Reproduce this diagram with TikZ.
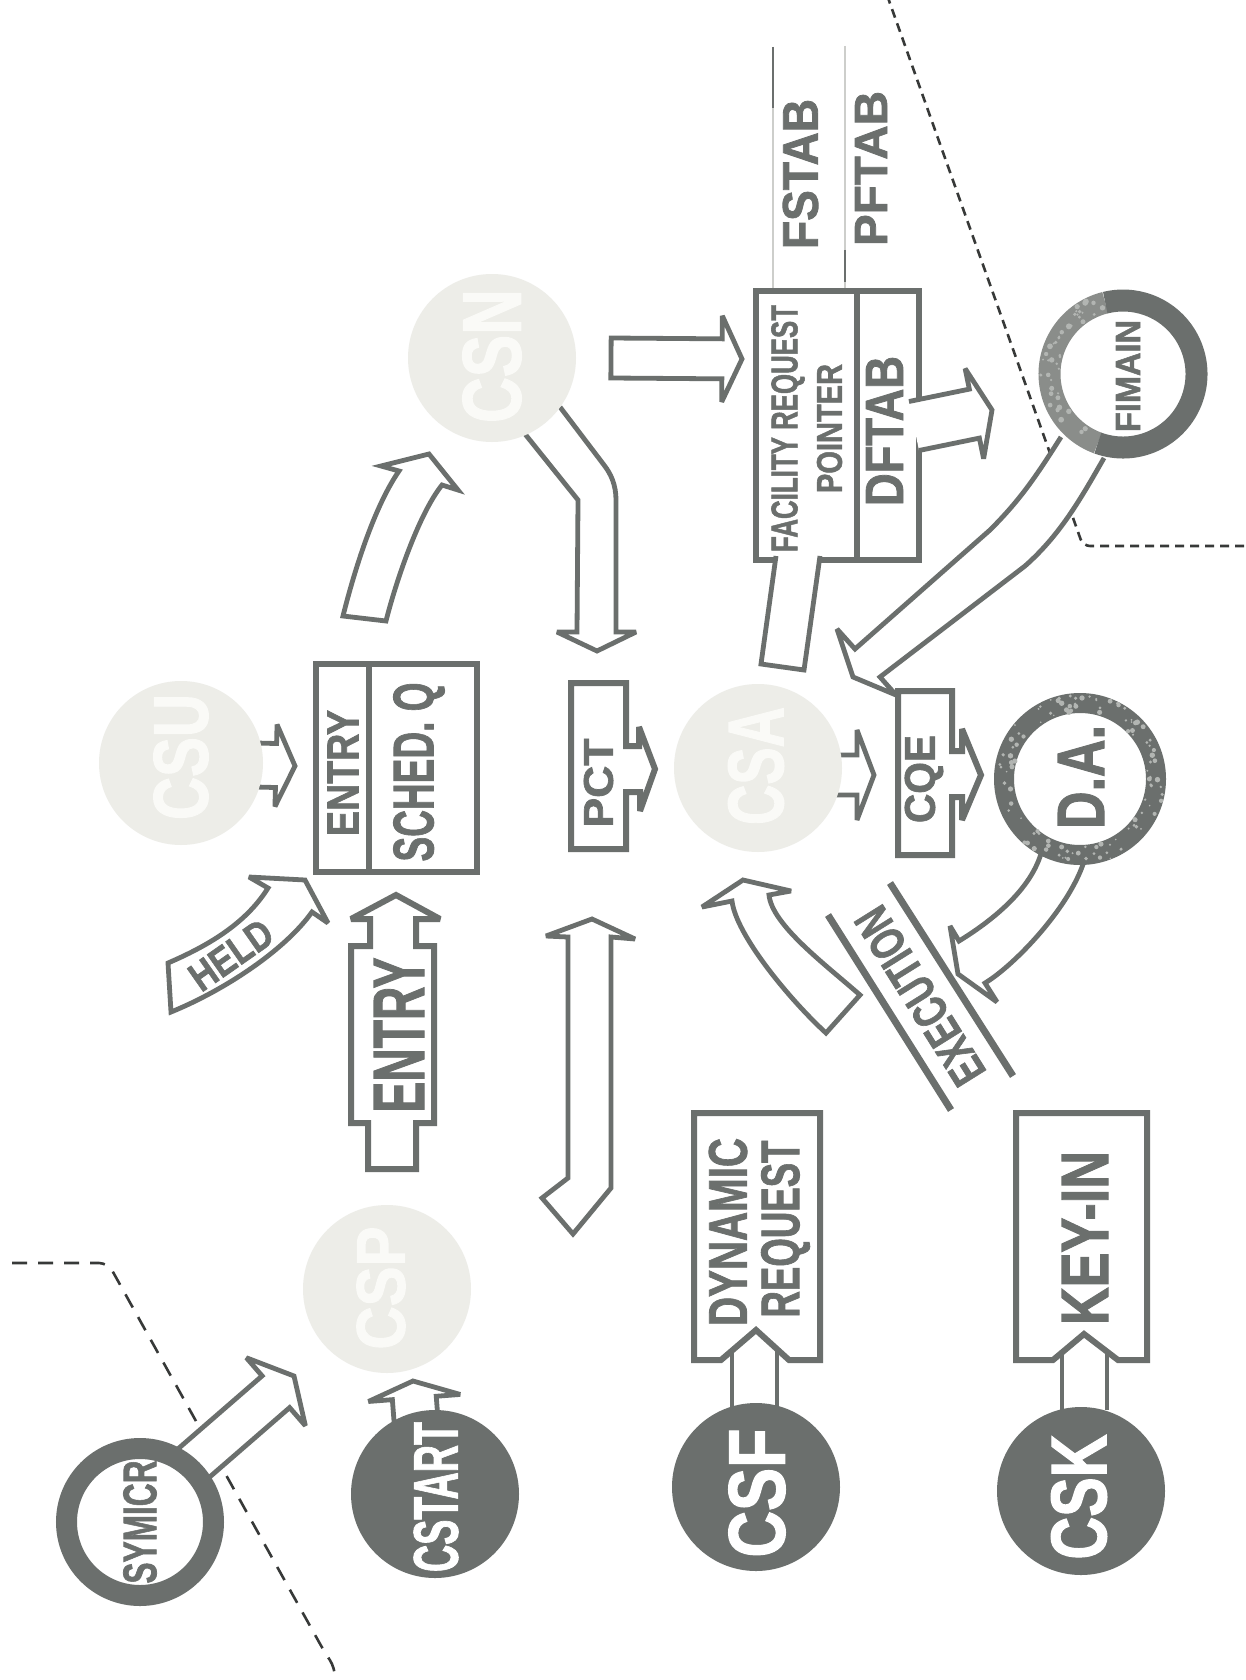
\documentclass[tikz,border=0pt]{standalone}
\usepackage{fontspec}
\setmainfont{Liberation Sans}[BoldFeatures={FakeBold=1.6}]
\usepackage{graphicx}
\usetikzlibrary{calc}
\definecolor{dk}{RGB}{107,111,109}
\definecolor{lt}{RGB}{237,237,232}
\definecolor{lttx}{RGB}{250,250,247}
\definecolor{dsh}{RGB}{55,57,56}
\definecolor{spk}{RGB}{178,181,178}
\definecolor{fmid}{RGB}{138,141,138}
\definecolor{fsl}{RGB}{205,206,203}
\newcommand\fitt[3]{\resizebox{#1pt}{#2pt}{\bfseries #3}}
\newcommand\barrow[6][]{%
  \coordinate (bah) at ($(#3)!#6pt!(#2)$);
  \filldraw[arw,#1] ($(#2)!#4pt!90:(#3)$) -- ($(bah)!#4pt!-90:(#2)$) -- ($(bah)!#5pt!-90:(#2)$) -- (#3) -- ($(bah)!#5pt!90:(#2)$) -- ($(bah)!#4pt!90:(#2)$) -- ($(#2)!#4pt!-90:(#3)$);}
\newcommand\barrowc[6][]{%
  \coordinate (bah) at ($(#3)!#6pt!(#2)$);
  \filldraw[arw,#1] ($(#2)!#4pt!90:(#3)$) -- ($(bah)!#4pt!-90:(#2)$) -- ($(bah)!#5pt!-90:(#2)$) -- (#3) -- ($(bah)!#5pt!90:(#2)$) -- ($(bah)!#4pt!90:(#2)$) -- ($(#2)!#4pt!-90:(#3)$) -- cycle;}
\begin{document}
\begin{tikzpicture}[x=1pt,y=-1pt,
  bx/.style={draw=dk,line width=6pt,fill=white,line join=miter,miter limit=4},
  arw/.style={draw=dk,line width=4.8pt,fill=white,line join=miter,miter limit=4},
  lightc/.style={circle,fill=lt,minimum size=168pt,inner sep=0pt},
  darkc/.style={circle,fill=dk,minimum size=168pt,inner sep=0pt},
  ringc/.style={circle,draw=dk,fill=white,inner sep=0pt},
  tx/.style={inner sep=0pt,text=dk},
  lbl/.style={tx,rotate=90},
  dshline/.style={draw=dsh,line width=2.6pt},
  sepline/.style={draw=dk,line width=7pt},
]
\useasboundingbox (0,0) rectangle (1245,1680);
\fill[white] (0,0) rectangle (1245,1680);

% dashed boundaries
\draw[dshline,dash pattern=on 15pt off 11pt,rounded corners=9pt] (12,1263) -- (108,1263) -- (324,1651) -- (335,1668) -- (335,1690);
\draw[dshline,dash pattern=on 9pt off 6pt,rounded corners=7pt] (887,-5) -- (1083,546) -- (1250,546);

% FSTAB / PFTAB
\draw[fsl,line width=2pt] (773,47) -- (773,291);
\draw[dk,line width=2pt] (773,47) -- (773,108);
\draw[fsl,line width=2pt] (845,46) -- (845,291);
\draw[dk,line width=2pt] (845,250) -- (845,282);
\node[lbl] (fstab) at (800.5,174) {\fitt{150}{35}{FSTAB}};
\node[lbl] (pftab) at (871,168.5) {\fitt{155}{32}{PFTAB}};

% ENTRY / SCHED. Q box
\node[bx,minimum width=53pt,minimum height=208pt] (entq) at (342.5,768) {};
\node[bx,minimum width=108pt,minimum height=208pt] (sched) at (423,768) {};
\node[lbl] (t-entq) at (343,773) {\fitt{126}{31}{ENTRY}};
\node[lbl] (t-sched) at (419,772) {\fitt{179}{40}{SCHED. Q}};

% FACILITY REQUEST POINTER / DFTAB box
\node[bx,minimum width=101pt,minimum height=269pt] (facreq) at (806.5,425.5) {};
\node[bx,minimum width=62pt,minimum height=269pt] (dftab) at (888,425.5) {};
\node[lbl] (t-fac) at (788,428.5) {\fitt{247}{26}{FACILITY REQUEST}};
\node[lbl] (t-ptr) at (829.5,428.5) {\fitt{129}{25}{POINTER}};
\node[lbl] (t-dft) at (884.5,431) {\fitt{150}{37}{DFTAB}};
\filldraw[arw] (776,556) -- (761,664) -- (804,670) -- (820,556);
\coordinate (dfs) at (914,426); \coordinate (dft) at (992,410);
\barrow{dfs}{dft}{25}{46}{18}

% PCT
\filldraw[bx] (571,683) -- (626,683) -- (626,746) -- (639,746) -- (639,727) -- (655,769) -- (640,811) -- (640,792) -- (626,792) -- (626,849) -- (571,849) -- cycle;
\node[lbl] (pct) at (598.5,783) {\fitt{89}{29}{PCT}};

% CQE
\filldraw[bx] (898,691) -- (952,691) -- (952,751) -- (962,751) -- (962,729) -- (981,775) -- (962,820) -- (962,797) -- (952,797) -- (952,855) -- (898,855) -- cycle;
\node[lbl] (cqe) at (924,779) {\fitt{88}{30}{CQE}};

% ENTRY label arrow
\filldraw[bx] (368,1169) -- (368,1123) -- (351,1123) -- (351,946) -- (370,946) -- (370,919) -- (351,919) -- (396,895) -- (440,919) -- (416,919) -- (416,946) -- (434,946) -- (434,1123) -- (416,1123) -- (416,1169) -- cycle;
\node[lbl] (entry) at (399,1035) {\fitt{155}{50}{ENTRY}};

% DYNAMIC REQUEST
\filldraw[bx] (694,1113) -- (820,1113) -- (820,1360) -- (789,1360) -- (756,1330) -- (721,1360) -- (694,1360) -- cycle;
\draw[dk,line width=4.8pt] (732,1351) -- (732,1410) (777,1350) -- (777,1410);
\node[lbl] (t-dyn) at (728,1232) {\fitt{188}{38}{DYNAMIC}};
\node[lbl] (t-req) at (785.5,1229) {\fitt{177}{38}{REQUEST}};

% KEY-IN
\filldraw[bx] (1016,1113) -- (1147,1113) -- (1147,1360) -- (1118,1360) -- (1084,1334) -- (1053,1360) -- (1016,1360) -- cycle;
\draw[dk,line width=4.8pt] (1062,1352) -- (1062,1410) (1107,1351) -- (1107,1410);
\node[lbl] (keyin) at (1085,1238) {\fitt{174}{46}{KEY-IN}};

% EXECUTION band
\draw[sepline] (828,915) -- (951,1110);
\draw[sepline] (890,883) -- (1013,1076);
\node[tx,rotate=122] (exec) at (920,996) {\fitt{200}{34}{EXECUTION}};

% straight block arrows
\coordinate (s1) at (188,1468); \coordinate (t1) at (294,1376);
\barrow{s1}{t1}{21}{45}{24}
\coordinate (s2) at (416,1420); \coordinate (t2) at (413,1381);
\barrow{s2}{t2}{22}{46}{17}
\coordinate (s3) at (256,765); \coordinate (t3) at (295,766);
\barrow{s3}{t3}{22}{41}{19}
\coordinate (s4) at (836,775); \coordinate (t4) at (874,775);
\barrow{s4}{t4}{20}{45}{17}
\coordinate (s5) at (611,358); \coordinate (t5) at (742,359);
\barrowc{s5}{t5}{20}{43}{20}

% curved / bent block arrows
\filldraw[arw] (168,963) -- (171,1012) .. controls (225,990) and (285,950) .. (312,912) -- (328,923) -- (305,880) -- (249,877) -- (268,888) .. controls (245,925) and (205,947) .. (168,963) -- cycle;
\node[tx,rotate=35] (held) at (231,955) {\fitt{92}{28}{HELD}};
\filldraw[arw] (343,616) -- (386,621) .. controls (395,585) and (418,515) .. (442,485) -- (458,490) -- (429,454) -- (381,466) -- (399,471) .. controls (372,510) and (352,580) .. (343,616) -- cycle;
\filldraw[arw] (525,434) -- (578,500) -- (577,632) -- (557,632) -- (597,651) -- (636,632) -- (616,632) -- (616,500) .. controls (616,485) and (611,474) .. (604,465) -- (560,407);
\filldraw[arw] (611,937) -- (635,939) -- (592,919) -- (546,936) -- (568,937) -- (568,1178) -- (542,1198) -- (573,1234) -- (611,1188) -- cycle;
\filldraw[arw] (1061,437) .. controls (1035,478) and (1020,500) .. (990,530) -- (855,649) -- (837,629) -- (853,677) -- (896,695) -- (880,677) -- (1025,566) .. controls (1060,535) and (1080,500) .. (1104,458);
\filldraw[arw] (1042,850) .. controls (1032,890) and (990,922) .. (959,941) -- (950,926) -- (958,974) -- (997,1002) -- (985,983) .. controls (1015,965) and (1072,905) .. (1085,858);
\filldraw[arw] (826,1033) -- (860,995) .. controls (826,965) and (772,925) .. (769,895) -- (791,891) -- (743,880) -- (702,907) -- (732,901) .. controls (736,935) and (790,1000) .. (826,1033) -- cycle;

% circles
\node[ringc,minimum size=147pt,line width=21pt] (symicr) at (140,1522) {};
\node[lbl] (t-symicr) at (140,1522) {\fitt{123}{33}{SYMICR}};
\node[darkc] (cstart) at (435,1494) {};
\node[lbl,text=white] (t-cstart) at (436,1497) {\fitt{150}{44}{CSTART}};
\node[lightc] (csp) at (387,1289) {};
\node[lbl,text=lttx] (t-csp) at (381,1288) {\fitt{123}{48}{CSP}};
\node[lightc,minimum size=164pt] (csu) at (181,763) {};
\node[lbl,text=lttx] (t-csu) at (181,757) {\fitt{126}{54}{CSU}};
\node[lightc] (csn) at (492,358) {};
\node[lbl,text=lttx] (t-csn) at (492,356) {\fitt{134}{58}{CSN}};
\node[lightc] (csa) at (758,768) {};
\node[lbl,text=lttx] (t-csa) at (756,766) {\fitt{118}{55}{CSA}};
\node[darkc] (csf) at (756,1487) {};
\node[lbl,text=white] (t-csf) at (757,1493) {\fitt{129}{56}{CSF}};
\node[darkc] (csk) at (1081,1491) {};
\node[lbl,text=white] (t-csk) at (1079,1497) {\fitt{125}{55}{CSK}};

\node[ringc,minimum size=152pt,line width=20pt] (da) at (1080,779) {};
\pgfmathsetseed{7}
\foreach \i in {1,...,110}{
  \pgfmathsetmacro\ang{360*rnd}
  \pgfmathsetmacro\rr{67+18*rnd}
  \pgfmathsetmacro\ss{0.8+2*rnd}
  \fill[spk] ($(da.center)+(\ang:\rr pt)$) circle[radius=\ss pt];
}
\node[lbl] (t-da) at (1081,777) {\fitt{104}{46}{D.A.}};

\node[circle,fill=white,minimum size=147pt,inner sep=0pt] (fimain) at (1123,374) {};
\draw[fmid,line width=22pt] ($(fimain.center)+(104:73.5pt)$) arc[start angle=104,end angle=250,radius=73.5pt];
\draw[dk,line width=22pt] ($(fimain.center)+(-110:73.5pt)$) arc[start angle=-110,end angle=104,radius=73.5pt];
\foreach \i in {1,...,45}{
  \pgfmathsetmacro\ang{106+142*rnd}
  \pgfmathsetmacro\rr{64+19*rnd}
  \pgfmathsetmacro\ss{0.8+2.2*rnd}
  \fill[spk] ($(fimain.center)+(\ang:\rr pt)$) circle[radius=\ss pt];
}
\node[lbl] (t-fimain) at (1128,376) {\fitt{112}{24}{FIMAIN}};
\end{tikzpicture}
\end{document}
